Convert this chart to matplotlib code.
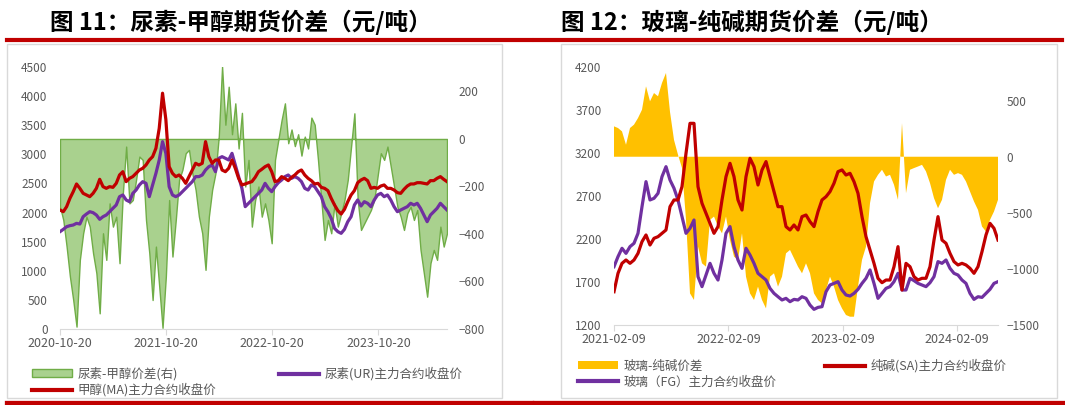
import pandas as pd
import matplotlib
matplotlib.use('Agg')
import matplotlib.pyplot as plt
from matplotlib.lines import Line2D
from matplotlib.patches import Patch, Rectangle

plt.rcParams['font.family'] = ['Noto Sans CJK SC', 'DejaVu Sans']

# ---- 图11: 尿素-甲醇 (about 11 days per point, 2020-10-20 .. 2024-06-12)
ur_ma_spread = [
    -285, -341, -453, -579, -678, -790, -509, -397, -327, -369,
    -481, -565, -734, -397, -509, -271, -369, -327, -523, -229,
    -32, -271, -257, -172, -74, -88, -341, -481, -678, -453,
    -621, -795, -579, -257, -495, -341, -172, -130, -60, -46,
    -144, -214, -327, -397, -551, -327, -214, -144, 10, 305,
    60, 220, 20, 150, -40, 110, -200, -88, -369,
    -257, -200, -327, -271, -341, -439, -88, -4, 80, 150,
    -18, 40, -30, 20, -70, 10, -40, 90, 60, -88,
    -257, -425, -341, -397, -271, -369, -313, -257, -172, -32,
    108, -257, -383, -355, -327, -299, -257, -158, -60, -88,
    -32, -116, -200, -285, -327, -383, -313, -285, -341, -299,
    -467, -565, -664, -523, -467, -509, -369, -453, -397,
]
ur_close = [
    1672, 1712, 1757, 1775, 1786, 1815, 1803, 1929, 1975, 2015,
    1998, 1958, 1884, 1929, 1958, 2015, 2073, 2130, 2273, 2302,
    2216, 2187, 2330, 2387, 2474, 2531, 2502, 2273, 2474, 2674,
    2903, 3218, 3017, 2445, 2302, 2273, 2302, 2359, 2416, 2474,
    2531, 2617, 2617, 2645, 2731, 2788, 2817, 2702, 2932, 2960,
    2932, 2903, 3017, 2817, 2617, 2416, 2101, 2159, 2216,
    2273, 2330, 2387, 2502, 2416, 2359, 2445, 2513, 2559, 2617,
    2645, 2588, 2617, 2588, 2531, 2416, 2387, 2474, 2445, 2359,
    2273, 2101, 2015, 1901, 1729, 1672, 1643, 1712, 1843, 1929,
    2130, 2216, 2113, 2187, 2159, 2101, 2216, 2302, 2330, 2273,
    2302, 2216, 2101, 2015, 2044, 2073, 2101, 2159, 2130, 2159,
    2073, 1958, 1843, 1958, 2015, 2073, 2159, 2101, 2044,
]
ma_close = [
    2044, 2015, 2101, 2244, 2359, 2491, 2416, 2330, 2302, 2273,
    2330, 2416, 2571, 2445, 2416, 2445, 2433, 2502, 2645, 2702,
    2531, 2588, 2617, 2674, 2731, 2760, 2817, 2903, 2960, 3103,
    3447, 4050, 3600, 2788, 2674, 2617, 2645, 2588, 2502, 2617,
    2731, 2846, 2817, 2846, 3218, 2960, 2846, 2903, 2903, 2731,
    2702, 2760, 2903, 2760, 2588, 2474, 2491, 2513, 2531,
    2605, 2702, 2743, 2788, 2817, 2702, 2531, 2548, 2617, 2588,
    2548, 2605, 2645, 2702, 2731, 2645, 2588, 2548, 2491, 2502,
    2433, 2416, 2376, 2244, 2130, 2033, 1975, 2055, 2187, 2302,
    2376, 2513, 2559, 2588, 2548, 2416, 2433, 2416, 2456, 2474,
    2416, 2416, 2387, 2342, 2330, 2399, 2456, 2491, 2491, 2513,
    2513, 2502, 2491, 2548, 2548, 2588, 2617, 2571, 2531,
]
left_ticks = ['2020-10-20', '2021-10-20', '2022-10-20', '2023-10-20']

# ---- 图12: 玻璃-纯碱 (about 13 days per point, 2021-02-09 .. 2024-06-18)
fg_sa_spread = [
    271, 256, 226, 107, 256, 286, 345, 419, 628, 494,
    568, 539, 658, 747, 400, 150, 18, -100, -560, -1218,
    -1277, -801, -950, -980, -563, -533, -623, -682, -533, -742,
    -890, -920,
    -682, -1069, -1218, -1277, -1158, -1277, -1352, -1069, -1039, -1158,
    -1069, -861, -831, -905, -980, -1039, -950, -1039, -1218, -1277,
    -1307, -1188, -1069, -1158, -1277, -1352, -1411, -1426, -1426, -1158,
    -920, -801, -414,
    -221, -161, -116, -176, -161, -250, -384, 300, -325, -116,
    -101, -87, -72, -131, -235, -369, -459, -384, -206, -116,
    -161, -146, -161, -221, -310, -399, -474, -622, -667, -563,
    -488, -384,
]
sa_close = [
    1587, 1801, 1917, 1956, 1917, 1956, 2033, 2169, 2247, 2130,
    2208, 2227, 2266, 2305, 2576, 2654, 2654, 2809, 3196, 3545,
    3545, 2809, 2615, 2499, 2382, 2266, 2344, 2654, 2925, 3080,
    2925, 2654,
    2537, 2925, 3138, 3041, 2828, 3003, 3100, 2925, 2751, 2576,
    2576, 2344, 2305, 2363, 2305, 2460, 2479, 2402, 2344, 2518,
    2654, 2692, 2751, 2848, 2983, 3003, 2944, 2964, 2867, 2731,
    2460, 2227, 2072,
    1917, 1743, 1692, 1723, 1723, 1878, 2111, 1607, 1917, 1878,
    1762, 1723, 1743, 1743, 1878, 2188, 2460, 2188, 2150, 2033,
    1937, 1898, 1917, 1898, 1859, 1801, 1878, 2053, 2247, 2382,
    2324, 2188,
]
fg_close = [
    1878, 1995, 2092, 2033, 2111, 2150, 2266, 2576, 2867, 2654,
    2673, 2731, 2925, 3041, 2886, 2790, 2654, 2460, 2266, 2324,
    2421, 1762, 1646, 1781, 1917, 1801, 1723, 1956, 2266, 2344,
    2111, 1956,
    1859, 2092, 2014, 1917, 1801, 1762, 1723, 1626, 1568, 1529,
    1491, 1510, 1471, 1498, 1491, 1529, 1510, 1432, 1382, 1405,
    1413, 1587, 1665, 1684, 1704, 1607, 1549, 1537, 1568, 1615,
    1684, 1743, 1840,
    1684, 1510, 1568, 1626, 1646, 1704, 1801, 1607, 1607, 1743,
    1716, 1684, 1665, 1646, 1692, 1762, 1937, 1917, 1956, 1859,
    1801, 1781, 1723, 1684, 1568, 1498, 1529, 1521, 1568, 1615,
    1684, 1704,
]
right_ticks = ['2021-02-09', '2022-02-09', '2023-02-09', '2024-02-09']

W, H = 1065, 405
GRAY = '#595959'
RED = '#c00000'
PURPLE = '#7030a0'


def fx(px):
    return px / W


def fy(py):
    return 1 - py / H


def setup_axes(fig, box, xlim, ticks, ylim, yticks, ylim2, yticks2, pad2):
    x0, y0, x1, y1 = box
    ax = fig.add_axes([fx(x0), fy(y1), (x1 - x0) / W, (y1 - y0) / H])
    ax2 = ax.twinx()
    ax.set_zorder(ax2.get_zorder() + 1)
    ax.patch.set_visible(False)
    for a in (ax, ax2):
        for s in a.spines.values():
            s.set_visible(False)
    ax.spines['bottom'].set_visible(True)
    ax.spines['bottom'].set_color('#d9d9d9')
    ax.set_xlim(pd.Timestamp(xlim[0]), pd.Timestamp(xlim[1]))
    ax.set_xticks([pd.Timestamp(t) for t in ticks])
    ax.set_xticklabels(ticks)
    ax.tick_params(axis='x', length=4, color='#d9d9d9', labelsize=9,
                   labelcolor=GRAY, pad=2)
    ax.set_ylim(*ylim)
    ax.set_yticks(yticks)
    ax.tick_params(axis='y', length=0, labelsize=8.5, labelcolor=GRAY, pad=9)
    ax2.set_ylim(*ylim2)
    ax2.set_yticks(yticks2)
    ax2.tick_params(axis='y', length=0, labelsize=8.5, labelcolor=GRAY, pad=pad2)
    return ax, ax2


def add_entry(fig, handle, label, x, y):
    fig.legend([handle], [label], loc='center left',
               bbox_to_anchor=(fx(x), fy(y)), frameon=False, fontsize=9,
               handlelength=3.2, handleheight=0.6, handletextpad=0.45,
               borderpad=0, borderaxespad=0, labelcolor=GRAY)


def main():
    fig = plt.figure(figsize=(W / 100, H / 100), dpi=100)

    # frames, red rules, titles
    for x0, x1 in [(7, 502), (561, 1057)]:
        fig.add_artist(Rectangle((fx(x0), fy(398)), (x1 - x0) / W, (398 - 44) / H,
                                 transform=fig.transFigure, fill=False,
                                 edgecolor='#d9d9d9', lw=1))
    for x0, x1 in [(7, 531), (535, 1062)]:
        fig.add_artist(Line2D([fx(x0), fx(x1)], [fy(39.5), fy(39.5)], color=RED, lw=3))
        fig.add_artist(Line2D([fx(x0), fx(x1)], [fy(402.5), fy(402.5)], color=RED, lw=3.8))
    fig.text(fx(50), fy(22), '图 11：尿素-甲醇期货价差（元/吨）', fontsize=17,
             fontweight='bold', va='center', ha='left')
    fig.text(fx(561), fy(22), '图 12：玻璃-纯碱期货价差（元/吨）', fontsize=17,
             fontweight='bold', va='center', ha='left')

    # left chart
    d1 = pd.date_range('2020-10-20', '2024-06-12', periods=len(ma_close))
    ax, ax2 = setup_axes(fig, (60, 67, 447, 329), ('2020-10-20', '2024-06-12'),
                         left_ticks, (0, 4500), range(0, 4501, 500),
                         (-800, 303), range(-800, 201, 200), 8)
    ax2.fill_between(d1, 0, ur_ma_spread, facecolor='#a9d18e', edgecolor='#70ad47',
                     linewidth=1.0)
    ax.plot(d1, ur_close, color=PURPLE, lw=2.3)
    ax.plot(d1, ma_close, color=RED, lw=2.3)

    add_entry(fig, Patch(facecolor='#a9d18e', edgecolor='#70ad47'),
              '尿素-甲醇价差(右)', 32, 374)
    add_entry(fig, Line2D([], [], color=RED, lw=3), '甲醇(MA)主力合约收盘价', 32, 390)
    add_entry(fig, Line2D([], [], color=PURPLE, lw=3), '尿素(UR)主力合约收盘价', 279, 374)

    # right chart
    d2 = pd.date_range('2021-02-09', '2024-06-18', periods=len(sa_close))
    bx, bx2 = setup_axes(fig, (614, 67, 998, 325), ('2021-02-09', '2024-06-18'),
                         right_ticks, (1200, 4200), range(1200, 4201, 500),
                         (-1500, 800), range(-1500, 501, 500), 6)
    bx2.fill_between(d2, 0, fg_sa_spread, facecolor='#ffc000', edgecolor='none')
    bx.plot(d2, fg_close, color=PURPLE, lw=2.3)
    bx.plot(d2, sa_close, color=RED, lw=2.3)

    add_entry(fig, Patch(facecolor='#ffc000', edgecolor='none'), '玻璃-纯碱价差', 578, 366)
    add_entry(fig, Line2D([], [], color=PURPLE, lw=3), '玻璃（FG）主力合约收盘价', 578, 382)
    add_entry(fig, Line2D([], [], color=RED, lw=3), '纯碱(SA)主力合约收盘价', 825, 366)

    fig.savefig('out.png', dpi=100)


if __name__ == '__main__':
    main()
